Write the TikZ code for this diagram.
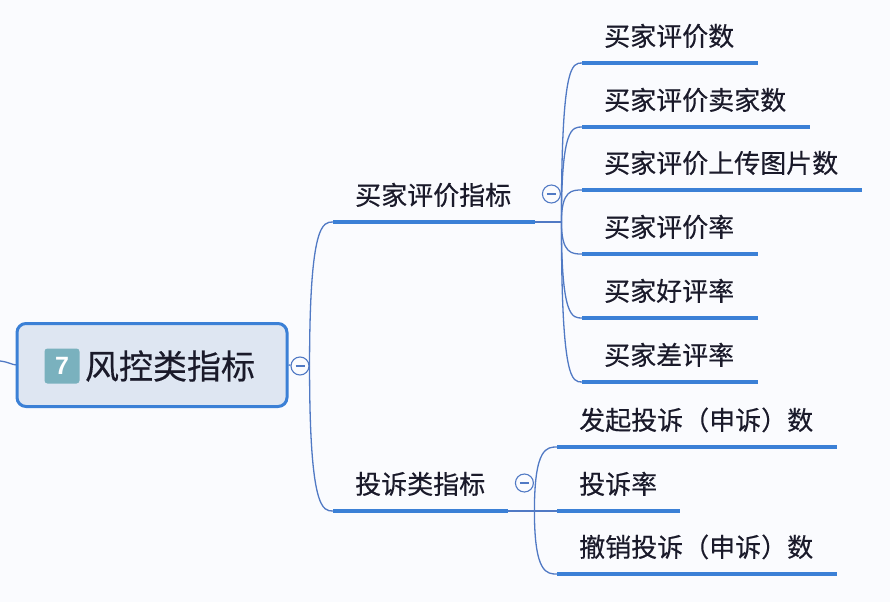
\documentclass[tikz,border=0pt]{standalone}
\usepackage{fontspec}
\newfontfamily\cjk[FakeBold=0.4]{Noto Sans CJK SC}
\newfontfamily\latin{Liberation Sans}
\definecolor{linkblue}{RGB}{80,121,196}
\definecolor{barblue}{RGB}{59,128,214}
\definecolor{rootfill}{RGB}{222,230,242}
\definecolor{badgeteal}{RGB}{122,177,190}
\definecolor{inkdark}{RGB}{26,26,42}
\definecolor{paper}{RGB}{250,251,254}
\begin{document}
\begin{tikzpicture}[x=1pt,y=-1pt,
	link/.style={draw=linkblue, line width=1.3pt},
	bar/.style={draw=barblue, line width=3.5pt},
	topic/.style={anchor=south west, inner xsep=22pt, inner ysep=0pt, text height=20pt, text depth=17pt, align=left, text=inkdark, font=\cjk\fontsize{26pt}{30pt}\selectfont},
	rootbox/.style={draw=barblue, line width=3pt, fill=rootfill, rounded corners=9pt, minimum width=270pt, minimum height=83pt},
	badge/.style={fill=badgeteal, rounded corners=3pt, minimum size=35pt, inner sep=0pt, text=white, font=\latin\bfseries\fontsize{25pt}{25pt}\selectfont},
	fold/.style={circle, draw=linkblue, line width=1.1pt, fill=paper, minimum size=18pt, inner sep=0pt,
		path picture={\draw[linkblue, line width=1.1pt] ([xshift=-4.5pt]path picture bounding box.center) -- ([xshift=4.5pt]path picture bounding box.center);}}]
	\fill[paper] (0,0) rectangle (890,602);
	\useasboundingbox (0,0) rectangle (890,602);

	% central topic
	\coordinate (in) at (0,361);
	\draw[link] (in) .. controls (9,362) and (12,365) .. (17,365);
	\node[rootbox] (root) at (152,365) {};
	\node[badge] (num) at (62,366) {7};
	\node[text=inkdark, font=\cjk\fontsize{34pt}{36pt}\selectfont] (title) at (170,366) {风控类指标};
	\node[fold] (rf) at (300,366) {};
	\draw[link] (root.east) -- (rf);

	% main branches
	\node[topic, text width=158pt] (buyer) at (333,222) {买家评价指标};
	\node[topic, text width=131pt] (cmpl) at (333,511) {投诉类指标};
	\foreach \n in {buyer,cmpl}{
		\draw[link] (rf.east) .. controls (rf.east |- \n.south west) and ([xshift=-10pt]\n.south west) .. (\n.south west);
		\draw[bar] (\n.south west) -- (\n.south east);
		\node[fold] (\n-f) at ([xshift=16pt,yshift=28pt]\n.south east) {};
		\coordinate (\n-j) at ([xshift=26pt]\n.south east);
		\draw[link] (\n.south east) -- (\n-j);
	}

	% buyer review items
	\node[topic, text width=132pt] (b1) at (582,63) {买家评价数};
	\node[topic, text width=184pt] (b2) at (582,127) {买家评价卖家数};
	\node[topic, text width=236pt] (b3) at (582,190) {买家评价上传图片数};
	\node[topic, text width=132pt] (b4) at (582,254) {买家评价率};
	\node[topic, text width=132pt] (b5) at (582,318) {买家好评率};
	\node[topic, text width=132pt] (b6) at (582,382) {买家差评率};
	\foreach \i in {1,...,6}{
		\draw[link] (buyer-j) .. controls (buyer-j |- b\i.south west) and ([xshift=-10pt]b\i.south west) .. (b\i.south west);
		\draw[bar] (b\i.south west) -- (b\i.south east);
	}

	% complaint items
	\node[topic, text width=236pt] (c1) at (557,447) {发起投诉（申诉）数};
	\node[topic, text width=79pt] (c2) at (557,511) {投诉率};
	\node[topic, text width=236pt] (c3) at (557,574) {撤销投诉（申诉）数};
	\foreach \i in {1,2,3}{
		\draw[link] (cmpl-j) .. controls (cmpl-j |- c\i.south west) and ([xshift=-10pt]c\i.south west) .. (c\i.south west);
		\draw[bar] (c\i.south west) -- (c\i.south east);
	}
\end{tikzpicture}
\end{document}
